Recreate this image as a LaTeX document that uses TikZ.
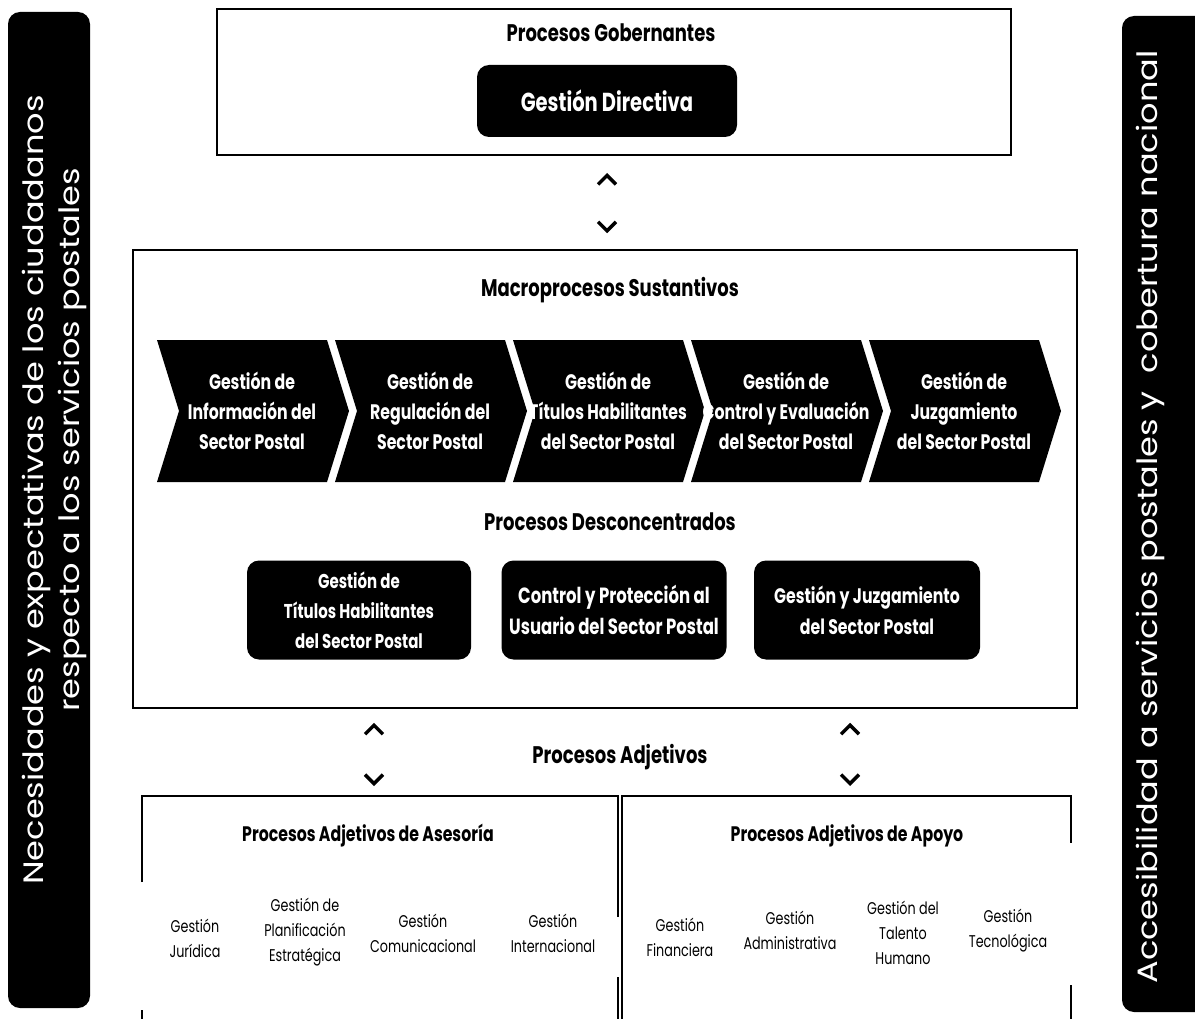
\documentclass[tikz,border=0pt]{standalone}
\usepackage{fontspec}
\setmainfont{Poppins}
\newfontfamily\narrowfont[FakeStretch=0.75]{Poppins}
\newfontfamily\widefont[FakeStretch=1.2]{Poppins}
\usetikzlibrary{arrows.meta}

\begin{document}
\begin{tikzpicture}[x=1pt, y=-1pt,
		darkbox/.style={fill=black, text=white, rounded corners=12pt, inner sep=0pt, align=center},
		frame/.style={draw=black, line width=1.5pt, inner sep=0pt},
		title/.style={font=\narrowfont\bfseries\fontsize{24}{30}\selectfont},
		subtitle/.style={font=\narrowfont\bfseries\fontsize{21}{26}\selectfont},
		chevtext/.style={text=white, align=center, font=\narrowfont\bfseries\fontsize{21}{30}\selectfont},
		desctext/.style={font=\narrowfont\bfseries\fontsize{20}{30}\selectfont},
		item/.style={align=center, font=\narrowfont\fontsize{17}{25}\selectfont},
		sidetext/.style={text=white, rotate=90, anchor=base},
		dblarrow/.style={draw=white, <->, >={Straight Barb[color=black, length=9pt, width=18pt, line width=3.5pt]}}
		]
		\useasboundingbox (0,0) rectangle (1195,1019);
		\fill[white] (0,0) rectangle (1195,1019);
		\clip (0,0) rectangle (1195,1019);
		
		\node[darkbox, minimum width=82, minimum height=996] (need) at (49,510) {};
		\node[sidetext, font=\widefont\fontsize{28}{35}\selectfont] (needa) at (43,490) {Necesidades y expectativas de los ciudadanos};
		\node[sidetext, font=\widefont\fontsize{28}{35}\selectfont] (needb) at (79,440) {respecto a los servicios postales};
		\node[darkbox, minimum width=90, minimum height=996] (acc) at (1167,514) {};
		\node[sidetext, font=\widefont\fontsize{28}{32}\selectfont] (acct) at (1157,517) {Accesibilidad a servicios postales y\ \ cobertura nacional};
		
		\node[frame, line width=2pt, minimum width=794, minimum height=146] (gob) at (614,82) {};
		\node[title] (gobt) at (611,33) {Procesos Gobernantes};
		\node[darkbox, minimum width=260, minimum height=72, font=\narrowfont\bfseries\fontsize{26}{32}\selectfont] (gdir) at (607,101) {Gestión Directiva};
		
		\node[frame, minimum width=944, minimum height=458] (sust) at (605,479) {};
		\node[title] (sustt) at (610,290) {Macroprocesos Sustantivos};
		
		\foreach \i/\txt in {0/{Gestión de\\Información del\\Sector Postal},
			1/{Gestión de\\Regulación del\\Sector Postal},
			2/{Gestión de\\Títulos Habilitantes\\del Sector Postal},
			3/{Gestión de\\Control y Evaluación\\del Sector Postal},
			4/{Gestión de\\Juzgamiento\\del Sector Postal}} {
			\fill[black] (157+178*\i,340) -- ++(170,0) -- ++(22,71) -- ++(-22,71) -- ++(-170,0) -- ++(22,-71) -- cycle;
			\node[chevtext] (chev\i) at (252+178*\i,411) {\txt};
		}
		
		\node[title] (desct) at (610,522) {Procesos Desconcentrados};
		\node[darkbox, desctext, minimum width=224, minimum height=99] (desc1) at (359,610) {Gestión de\\Títulos Habilitantes\\del Sector Postal};
		\node[darkbox, desctext, font=\narrowfont\bfseries\fontsize{22}{31}\selectfont, minimum width=225, minimum height=99] (desc2) at (614,610) {Control y Protección al\\Usuario del Sector Postal};
		\node[darkbox, desctext, font=\narrowfont\bfseries\fontsize{21}{31}\selectfont, minimum width=226, minimum height=99] (desc3) at (867,610) {Gestión y Juzgamiento\\del Sector Postal};
		
		\node[title] (adjt) at (620,757) {Procesos Adjetivos};
		\coordinate (ases) at (374,796);
		\coordinate (apoy) at (850,796);
		
		\draw[line width=1.5pt] (142,882) -- (142,796) -- (618,796) -- (618,917);
		\draw[line width=1.5pt] (618,977) -- (618,1019);
		\draw[line width=1.5pt] (142,1010) -- (142,1019);
		\draw[line width=1.5pt] (622,1019) -- (622,796) -- (1071,796) -- (1071,843);
		\draw[line width=1.5pt] (1071,985) -- (1071,1019);
		
		\node[subtitle] (asest) at (368,836) {Procesos Adjetivos de Asesoría};
		\node[subtitle] (apoyt) at (847,836) {Procesos Adjetivos de Apoyo};
		
		\node[item] (jur) at (195,938) {Gestión\\Jurídica};
		\node[item] (plan) at (305,932) {Gestión de\\Planificación\\Estratégica};
		\node[item] (com) at (423,933) {Gestión\\Comunicacional};
		\node[item] (inter) at (553,933) {Gestión\\Internacional};
		\node[item] (fin) at (680,937) {Gestión\\Financiera};
		\node[item] (adm) at (790,930) {Gestión\\Administrativa};
		\node[item] (tal) at (903,933) {Gestión del\\Talento\\Humano};
		\node[item] (tec) at (1008,931) {Gestión\\Tecnológica};
		
		\draw[dblarrow, shorten <=17, shorten >=16] (gob.south -| gdir) -- (sust.north -| gdir);
		\draw[dblarrow, shorten <=14, shorten >=10] (sust.south -| ases) -- (ases);
		\draw[dblarrow, shorten <=14, shorten >=10] (sust.south -| apoy) -- (apoy);
		
\end{tikzpicture}
\end{document}
